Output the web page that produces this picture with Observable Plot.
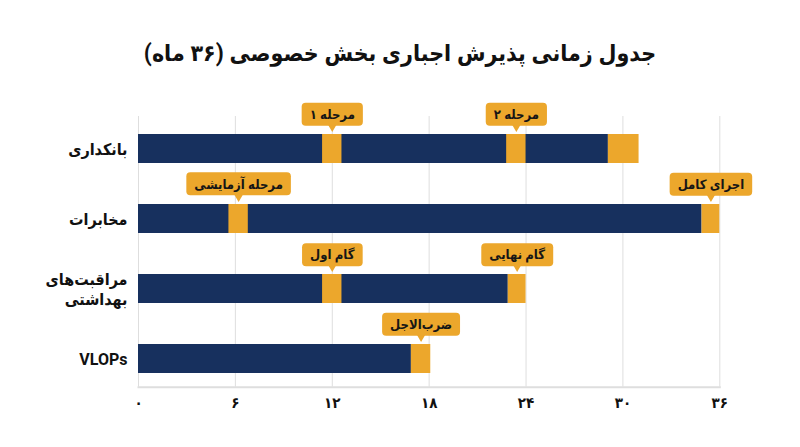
<!DOCTYPE html>
<html>
<head>
<meta charset="utf-8">
<script src="https://cdn.jsdelivr.net/npm/d3@7"></script>
<script src="https://cdn.jsdelivr.net/npm/@observablehq/plot@0.6"></script>
<style>
  html, body { margin: 0; padding: 0; background: #fff; }
  #title {
    direction: rtl; text-align: center;
    font-family: Roboto, "DejaVu Sans Condensed", "DejaVu Sans", sans-serif;
    font-weight: 700; font-size: 23px; line-height: 36px;
    color: #111; padding-top: 36px; height: 36px; padding-bottom: 28px; margin: 0;
  }
</style>
</head>
<body>
<div id="title">جدول زمانی پذیرش اجباری بخش خصوصی (۳۶ ماه)</div>
<div id="chart"></div>
<script>
// ---- data ----
const sectors = ["بانکداری", "مخابرات", "مراقبت‌های بهداشتی", "VLOPs"];
const navyEnd = [29.1, 34.9, 22.9, 16.9];

const markSector = ["بانکداری", "بانکداری", "بانکداری", "مخابرات", "مخابرات", "مراقبت‌های بهداشتی", "مراقبت‌های بهداشتی", "VLOPs"];
const markStart = [11.4, 22.8, 29.1, 5.6, 34.9, 11.4, 22.9, 16.9];
const markEnd   = [12.6, 24.0, 31.0, 6.8, 36.0, 12.6, 24.0, 18.1];
const markLabel = ["مرحله ۱", "مرحله ۲", "", "مرحله آزمایشی", "اجرای کامل", "گام اول", "گام نهایی", "ضرب‌الاجل"];

const xTicks = [0, 6, 12, 18, 24, 30, 36];
const xTickLabels = ["۰", "۶", "۱۲", "۱۸", "۲۴", "۳۰", "۳۶"];

// ---- tables built from arrays ----
const bars = sectors.map((s, i) => ({sector: s, end: navyEnd[i]}));
const marks = markSector.map((s, i) => ({sector: s, start: markStart[i], end: markEnd[i], label: markLabel[i], mid: (markStart[i] + markEnd[i]) / 2}));
const callouts = marks.filter(d => d.label);

const navy = "#17305e";
const orange = "#eca72c";
const font = "Roboto, 'DejaVu Sans Condensed', 'DejaVu Sans', sans-serif";

const chart = Plot.plot({
  width: 800,
  height: 347,
  marginTop: 16,
  marginBottom: 60.3,
  marginLeft: 138,
  marginRight: 80.7,
  style: {fontFamily: font, background: "#fff", color: "#111"},
  x: {domain: [0, 36]},
  y: {domain: sectors, paddingInner: 0.58, paddingOuter: 0.2, align: 0.56},
  marks: [
    Plot.gridX({ticks: xTicks, stroke: "#dedede", strokeOpacity: 1, strokeWidth: 1}),
    Plot.frame({anchor: "bottom", stroke: "#dedede", strokeWidth: 2}),
    Plot.barX(bars, {x1: 0, x2: "end", y: "sector", fill: navy}),
    Plot.barX(marks, {x1: "start", x2: "end", y: "sector", fill: orange}),
    Plot.dot(callouts, {x: "mid", y: "sector", symbol: "triangle", r: 5, rotate: 180, fill: orange, dy: -24.7}),
    Plot.text(callouts, {x: "mid", y: "sector", text: "label", dy: -34.4, fill: "#161616", fontSize: 13, fontWeight: 700, className: "callout"}),
    Plot.axisX({ticks: xTicks, tickFormat: d => xTickLabels[xTicks.indexOf(d)], tickSize: 0, tickPadding: 10, fontSize: 15, fontWeight: 700, label: null, fill: "#111"}),
    Plot.axisY({tickSize: 0, tickPadding: 11, fontSize: 16, fontWeight: 700, lineHeight: 1.25, label: null, fill: "#111",
      tickFormat: d => d === "مراقبت‌های بهداشتی" ? "مراقبت‌های\nبهداشتی" : d})
  ]
});
document.getElementById("chart").appendChild(chart);

// rounded callout boxes behind the label texts
d3.select(chart).selectAll("g.callout text").each(function () {
  const b = this.getBBox();
  const padX = 8, h = 23;
  const cy = b.y + b.height / 2;
  const rect = document.createElementNS("http://www.w3.org/2000/svg", "rect");
  rect.setAttribute("x", b.x - padX);
  rect.setAttribute("y", cy - h / 2);
  rect.setAttribute("width", b.width + 2 * padX);
  rect.setAttribute("height", h);
  rect.setAttribute("rx", 4);
  rect.setAttribute("fill", orange);
  const t = this.getAttribute("transform");
  if (t) rect.setAttribute("transform", t);
  this.parentNode.insertBefore(rect, this);
});
</script>
</body>
</html>
